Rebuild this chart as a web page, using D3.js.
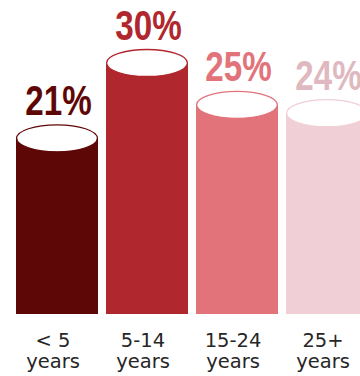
<!DOCTYPE html>
<html>
<head>
<meta charset="utf-8">
<script src="https://cdn.jsdelivr.net/npm/d3@7"></script>
<style>
  html, body { margin: 0; padding: 0; background: #ffffff; }
  svg { display: block; }
</style>
</head>
<body>
<svg id="chart" width="360" height="376"></svg>
<script>
// Share of cases by age group
const categories = ["< 5", "5-14", "15-24", "25+"];
const lineTwo = ["years", "years", "years", "years"];
const values = [21, 30, 25, 24];
const barColors = ["#5e0707", "#b0272d", "#e2737a", "#f0d0d6"];
const labelColors = ["#5e0707", "#b0272d", "#e2737a", "#e0b8bf"];

const svg = d3.select("#chart");

const x = d3.scaleBand()
  .domain(categories)
  .range([16, 368])
  .paddingInner(8 / 90)
  .paddingOuter(0);

const y = d3.scaleLinear()
  .domain([0, 30])
  .range([314, 63]);

const ry = 13.5;
const data = categories.map((c, i) => ({ c, v: values[i], i }));
const cx = d => x(d.c) + x.bandwidth() / 2;

const g = svg.append("g");

// cylinder bodies
g.selectAll("rect.body")
  .data(data)
  .join("rect")
  .attr("class", "body")
  .attr("x", d => x(d.c))
  .attr("y", d => y(d.v))
  .attr("width", x.bandwidth())
  .attr("height", d => y(0) - y(d.v))
  .attr("fill", d => barColors[d.i]);

// open tops
g.selectAll("ellipse.top")
  .data(data)
  .join("ellipse")
  .attr("class", "top")
  .attr("cx", cx)
  .attr("cy", d => y(d.v))
  .attr("rx", x.bandwidth() / 2 - 0.6)
  .attr("ry", ry)
  .attr("fill", "#ffffff")
  .attr("stroke", d => barColors[d.i])
  .attr("stroke-width", 1.3);

// value labels, condensed horizontally
g.selectAll("text.value")
  .data(data)
  .join("text")
  .attr("class", "value")
  .attr("transform", d => `translate(${cx(d) + 1.5},${y(d.v) - ry - 10}) scale(0.79,1)`)
  .attr("text-anchor", "middle")
  .attr("font-family", "'Liberation Sans', Arial, sans-serif")
  .attr("font-weight", "bold")
  .attr("font-size", 42)
  .attr("fill", d => labelColors[d.i])
  .text(d => d.v + "%");

// category labels
const axis = g.selectAll("text.cat")
  .data(data)
  .join("text")
  .attr("class", "cat")
  .attr("text-anchor", "middle")
  .attr("font-family", "'DejaVu Sans', sans-serif")
  .attr("font-size", 19.5)
  .attr("fill", "#262626");

axis.append("tspan")
  .attr("x", d => cx(d) - 4)
  .attr("y", 347)
  .text(d => d.c);

axis.append("tspan")
  .attr("x", d => cx(d) - 4)
  .attr("y", 367.5)
  .text(d => lineTwo[d.i]);
</script>
</body>
</html>
